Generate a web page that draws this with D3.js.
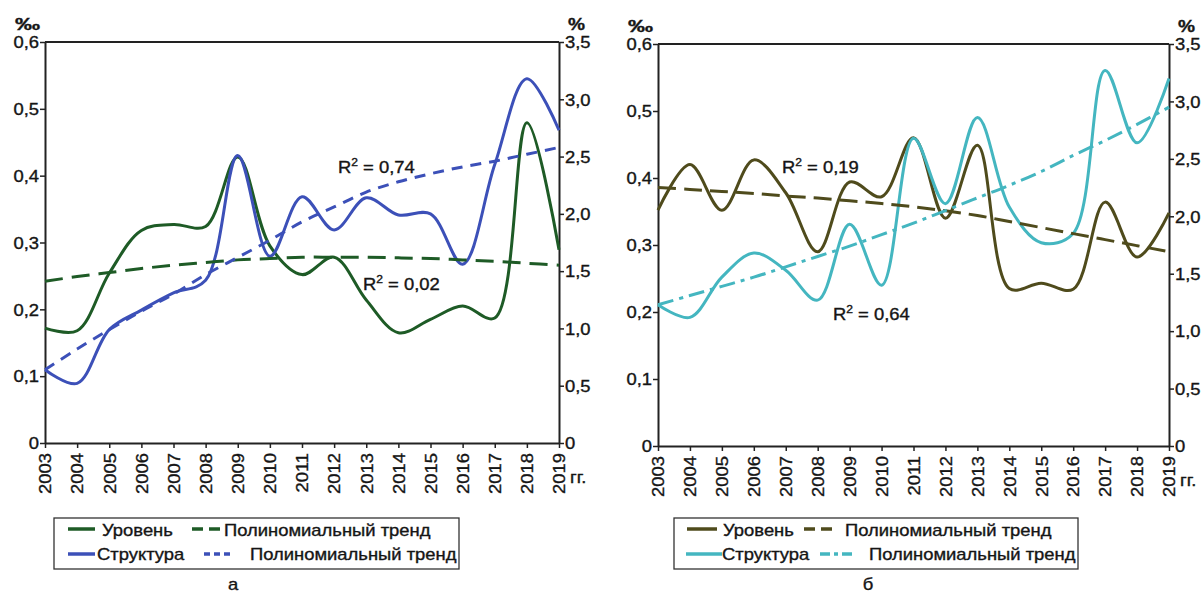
<!DOCTYPE html>
<html><head><meta charset="utf-8">
<script src="https://cdn.jsdelivr.net/npm/d3@7"></script>
<style>
body{margin:0;background:#fff}
svg{display:block}
text{font-family:"Liberation Sans",Arial,sans-serif;fill:#151515;stroke:#151515;stroke-width:0.35px}
</style>
</head><body>
<svg id="c" width="1203" height="594"></svg>
<script>
// ---------- data ----------
const years = d3.range(2003, 2020);
const yearLabels = years.map(String);
const leftTicks = [0, 0.1, 0.2, 0.3, 0.4, 0.5, 0.6];
const rightTicks = [0, 0.5, 1.0, 1.5, 2.0, 2.5, 3.0, 3.5];

// chart а
const levelA = [0.172, 0.168, 0.254, 0.318, 0.327, 0.324, 0.428, 0.295, 0.252, 0.278, 0.214, 0.165, 0.185, 0.205, 0.187, 0.479, 0.289];
const structA = [0.64, 0.52, 0.99, 1.16, 1.31, 1.42, 2.51, 1.63, 2.15, 1.86, 2.14, 1.99, 2.0, 1.56, 2.43, 3.18, 2.73];
const levelTrendA = [0.242, 0.249, 0.255, 0.261, 0.266, 0.270, 0.274, 0.276, 0.278, 0.278, 0.278, 0.277, 0.276, 0.274, 0.272, 0.269, 0.266];
const structTrendA = [0.64, 0.82, 0.99, 1.15, 1.30, 1.47, 1.62, 1.77, 1.93, 2.06, 2.19, 2.28, 2.35, 2.41, 2.46, 2.52, 2.58];

// chart б
const levelB = [0.352, 0.420, 0.352, 0.427, 0.378, 0.290, 0.394, 0.372, 0.460, 0.340, 0.449, 0.235, 0.243, 0.234, 0.364, 0.282, 0.348];
const structB = [1.23, 1.12, 1.47, 1.68, 1.53, 1.27, 1.93, 1.40, 2.68, 2.11, 2.86, 2.08, 1.77, 1.85, 3.27, 2.64, 3.20];
const levelTrendB = [0.386, 0.383, 0.380, 0.377, 0.373, 0.370, 0.366, 0.362, 0.357, 0.351, 0.344, 0.335, 0.326, 0.317, 0.308, 0.299, 0.290];
const structTrendB = [1.23, 1.31, 1.39, 1.47, 1.56, 1.65, 1.74, 1.84, 1.94, 2.05, 2.16, 2.27, 2.39, 2.53, 2.66, 2.80, 2.95];

const legendNames = ["Уровень", "Полиномиальный тренд", "Структура", "Полиномиальный тренд"];
const r2A = ["0,74", "0,02"];
const r2B = ["0,19", "0,64"];
const panelLabels = ["а", "б"];

// ---------- drawing ----------
const svg = d3.select("#c");
const FS = 16, SX = 1.15;
const fmt = v => v === 0 ? "0" : d3.format(".1f")(v).replace(".", ",");

function txt(g, x, y, s, anchor) {
  return g.append("text").attr("transform", `translate(${x},${y}) scale(${SX},1)`).text(s)
    .attr("font-size", FS).attr("text-anchor", anchor || "start");
}
function r2(g, x, y, val) {
  const t = g.append("text").attr("transform", `translate(${x},${y}) scale(${SX},1)`)
    .attr("font-size", FS);
  t.append("tspan").text("R");
  t.append("tspan").text("2").attr("font-size", 10.5).attr("dy", -7);
  t.append("tspan").text(" = " + val).attr("dy", 7);
}

function chart(cfg) {
  const g = svg.append("g");
  const x = d3.scaleLinear([2003, 2019], [cfg.l, cfg.r]);
  const yL = d3.scaleLinear([0, 0.6], [cfg.b, cfg.t]);
  const yR = d3.scaleLinear([0, 3.5], [cfg.b, cfg.t]);

  g.append("line").attr("x1", cfg.l).attr("x2", cfg.r).attr("y1", cfg.t).attr("y2", cfg.t)
    .attr("stroke", "#222").attr("stroke-width", 2);

  const styleAxis = a => {
    a.select(".domain").attr("stroke", "#222").attr("stroke-width", 2);
    a.selectAll(".tick line").attr("stroke", "#222").attr("stroke-width", 1.5);
    a.selectAll("text").attr("font-size", FS)
      .attr("font-family", '"Liberation Sans",Arial,sans-serif').attr("fill", "#151515")
      .attr("x", 0).attr("y", 0);
  };

  const aL = g.append("g").attr("transform", `translate(${cfg.l},0)`)
    .call(d3.axisLeft(yL).tickValues(leftTicks).tickFormat(fmt).tickSize(5).tickSizeOuter(0));
  styleAxis(aL);
  aL.selectAll("text").attr("dy", "0.36em").attr("text-anchor", "end")
    .attr("transform", `translate(-6,0) scale(${SX},1)`);

  const aR = g.append("g").attr("transform", `translate(${cfg.r},0)`)
    .call(d3.axisRight(yR).tickValues(rightTicks).tickFormat(fmt).tickSize(5).tickSizeOuter(0));
  styleAxis(aR);
  aR.selectAll("text").attr("dy", "0.36em").attr("text-anchor", "start")
    .attr("transform", `translate(6,0) scale(${SX},1)`);

  const aB = g.append("g").attr("transform", `translate(0,${cfg.b})`)
    .call(d3.axisBottom(x).tickValues(years).tickFormat((d, i) => yearLabels[i]).tickSize(5).tickSizeOuter(0));
  styleAxis(aB);
  aB.selectAll("text").attr("dy", "0.36em").attr("text-anchor", "end")
    .attr("transform", `translate(0,10) rotate(-90) scale(${SX},1)`);

  // units
  g.append("text").attr("x", cfg.l - 30).attr("y", cfg.t - 12).text("‰")
    .attr("font-size", 17).attr("font-weight", "bold").attr("textLength", 25).attr("lengthAdjust", "spacingAndGlyphs");
  g.append("text").attr("x", cfg.r + 9).attr("y", cfg.t - 12).text("%")
    .attr("font-size", 17).attr("font-weight", "bold").attr("textLength", 17).attr("lengthAdjust", "spacingAndGlyphs");
  txt(g, cfg.r + 11, cfg.b + 40, "гг.");

  const line = sc => d3.line().x((d, i) => x(years[i])).y(d => sc(d)).curve(d3.curveCatmullRom.alpha(0.5));
  const plot = g.append("g").attr("fill", "none").attr("stroke-linecap", "butt");
  plot.append("path").attr("d", line(yL)(cfg.level)).attr("stroke", cfg.c1).attr("stroke-width", 3);
  plot.append("path").attr("d", line(yR)(cfg.struct)).attr("stroke", cfg.c2).attr("stroke-width", 3);
  plot.append("path").attr("d", line(yL)(cfg.levelTrend)).attr("stroke", cfg.c1).attr("stroke-width", 3)
    .attr("stroke-dasharray", cfg.d1);
  plot.append("path").attr("d", line(yR)(cfg.structTrend)).attr("stroke", cfg.c2).attr("stroke-width", 3)
    .attr("stroke-dasharray", cfg.d2);

  r2(g, cfg.r2p[0][0], cfg.r2p[0][1], cfg.r2[0]);
  r2(g, cfg.r2p[1][0], cfg.r2p[1][1], cfg.r2[1]);

  // legend
  const L = cfg.leg;
  g.append("rect").attr("x", L.x).attr("y", 518).attr("width", L.w).attr("height", 51)
    .attr("fill", "#fff").attr("stroke", "#333").attr("stroke-width", 1.3);
  const lg = g.append("g").attr("fill", "none");
  lg.append("line").attr("x1", L.s1[0]).attr("x2", L.s1[1]).attr("y1", 529).attr("y2", 529)
    .attr("stroke", cfg.c1).attr("stroke-width", 3.5);
  lg.append("line").attr("x1", L.t1[0]).attr("x2", L.t1[1]).attr("y1", 529).attr("y2", 529)
    .attr("stroke", cfg.c1).attr("stroke-width", 3.5).attr("stroke-dasharray", L.ld1);
  lg.append("line").attr("x1", L.s2[0]).attr("x2", L.s2[1]).attr("y1", 554).attr("y2", 554)
    .attr("stroke", cfg.c2).attr("stroke-width", 3.5);
  lg.append("line").attr("x1", L.t2[0]).attr("x2", L.t2[1]).attr("y1", 554).attr("y2", 554)
    .attr("stroke", cfg.c2).attr("stroke-width", 3.5).attr("stroke-dasharray", L.ld2);
  txt(g, L.tx[0], 536, legendNames[0]);
  txt(g, L.tx[1], 536, legendNames[1]);
  txt(g, L.tx[2], 560, legendNames[2]);
  txt(g, L.tx[3], 560, legendNames[3]);

  txt(g, cfg.panelX, 590, cfg.panel, "middle");
}

chart({
  l: 45, r: 559, t: 42, b: 443,
  level: levelA, struct: structA, levelTrend: levelTrendA, structTrend: structTrendA,
  c1: "#1e5b26", c2: "#3c50b8", d1: "18,9", d2: "11,8",
  r2: r2A, r2p: [[338, 173], [363, 290]],
  leg: { x: 54, w: 405, s1: [68, 95], t1: [192, 220], s2: [68, 95], t2: [204, 230],
         ld1: "11,6", ld2: "6,4", tx: [102, 224, 97, 250] },
  panel: panelLabels[0], panelX: 233
});
chart({
  l: 658, r: 1169, t: 44, b: 446,
  level: levelB, struct: structB, levelTrend: levelTrendB, structTrend: structTrendB,
  c1: "#4f4b1c", c2: "#44b6c0", d1: "18,8", d2: "16,6,4,6",
  r2: r2B, r2p: [[782, 173], [833, 320]],
  leg: { x: 674, w: 404, s1: [687, 717], t1: [804, 834], s2: [686, 722], t2: [820, 854],
         ld1: "11,6", ld2: "10,4,4,4", tx: [723, 845, 722, 869] },
  panel: panelLabels[1], panelX: 868
});
</script>
</body></html>
